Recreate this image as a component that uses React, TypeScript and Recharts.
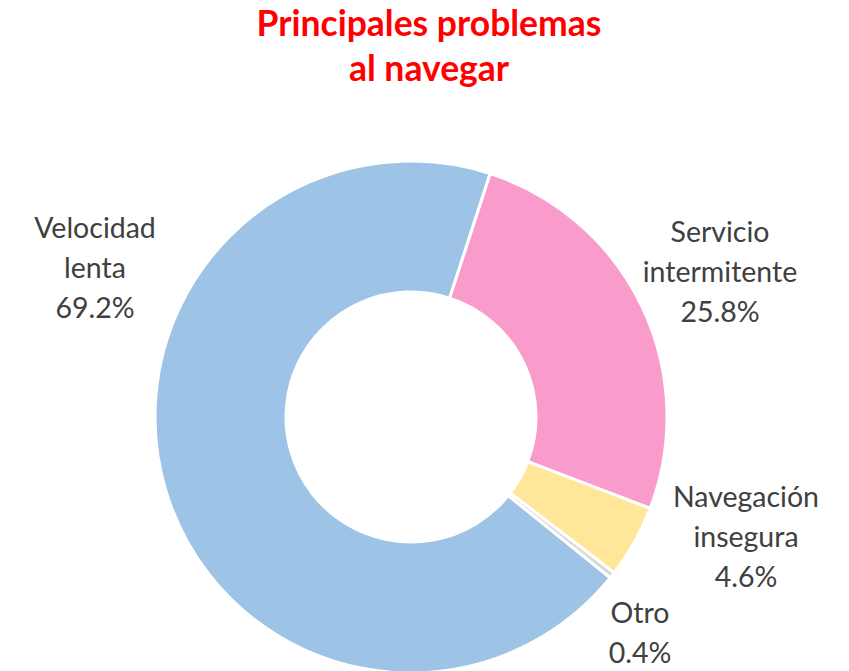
import { Pie, PieChart, Cell } from "recharts";

const categories = ["Velocidad lenta", "Servicio intermitente", "Navegación insegura", "Otro"];
const labelLines = [["Velocidad", "lenta"], ["Servicio", "intermitente"], ["Navegación", "insegura"], ["Otro"]];
const percentages = [69.2, 25.8, 4.6, 0.4];
const colors = ["#9DC3E6", "#F99BCB", "#FFE699", "#D9D9D9"];

// label anchor offsets from the pie centre (Excel "best fit" placement)
const labelOffsets = [
  [-316, -150],
  [309, -146],
  [335, 119],
  [229, 195],
];

const data = categories.map((name, i) => ({ name, value: percentages[i] }));

const App = () => {
  const renderLabel = ({ cx, cy, index }: any) => {
    const [dx, dy] = labelOffsets[index];
    const lines = [...labelLines[index], `${percentages[index].toFixed(1)}%`];
    const x = cx + dx;
    const startY = cy + dy - ((lines.length === 3 ? 1 : 0) * 40);
    return (
      <text
        x={x}
        y={startY}
        fill="#404040"
        textAnchor="middle"
        dominantBaseline="central"
        fontSize={28.5}
        fontFamily="Lato, 'Open Sans', sans-serif"
      >
        {lines.map((l, i) => (
          <tspan key={i} x={x} dy={i === 0 ? 0 : 40}>
            {l}
          </tspan>
        ))}
      </text>
    );
  };

  return (
    <div style={{ position: "relative", width: 849, height: 671, background: "#fff" }}>
      <style>{"body{margin:0}"}</style>
      <div
        style={{
          position: "absolute",
          left: 0,
          top: 0,
          width: 858,
          textAlign: "center",
          color: "#FF0000",
          fontFamily: "Lato, 'Open Sans', sans-serif",
          fontWeight: 700,
          fontSize: 35.5,
          lineHeight: "45px",
        }}
      >
        Principales problemas
        <br />
        al navegar
      </div>
      <PieChart width={849} height={671} margin={{ top: 0, right: 0, bottom: 0, left: 0 }}>
        <Pie
          data={data}
          dataKey="value"
          nameKey="name"
          cx={411}
          cy={417}
          outerRadius={256}
          innerRadius={125}
          startAngle={-38.9}
          endAngle={-398.9}
          stroke="#FFFFFF"
          strokeWidth={3}
          labelLine={false}
          label={renderLabel}
          isAnimationActive={false}
        >
          {data.map((entry, index) => (
            <Cell key={`cell-${index}`} fill={colors[index]} />
          ))}
        </Pie>
      </PieChart>
    </div>
  );
};

export default App;
